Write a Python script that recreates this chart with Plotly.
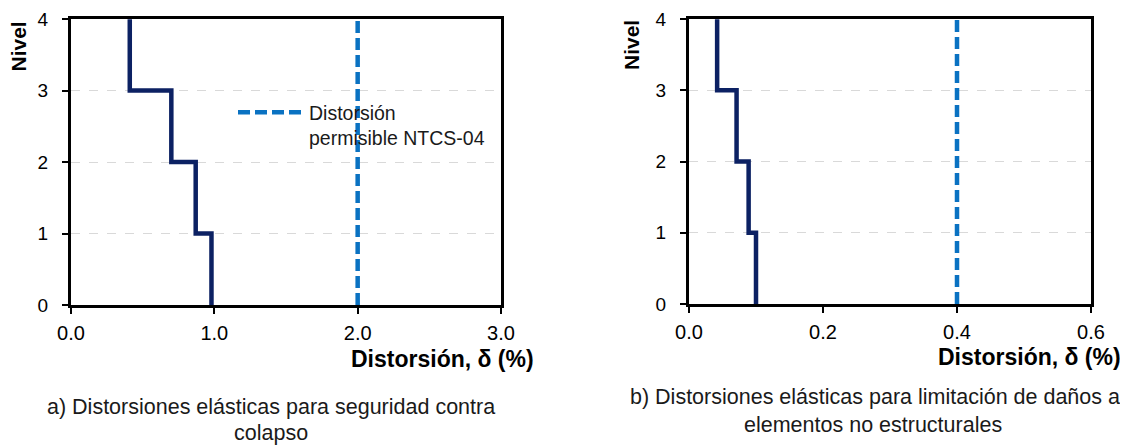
import plotly.graph_objects as go

# Data
levels = [0, 1, 2, 3, 4]
drift_a = [0.98, 0.87, 0.70, 0.41]     # stories 1..4, panel a
drift_b = [0.10, 0.089, 0.071, 0.042]  # stories 1..4, panel b
limit_a = 2.0
limit_b = 0.4
range_a = [0, 3]
range_b = [0, 0.6]
dtick_a = 1
dtick_b = 0.2
legend_label = "Distorsión<br>permisible NTCS-04"
xtitle = "Distorsión, δ (%)"
ytitle = "Nivel"
caption_a = ["a) Distorsiones elásticas para seguridad contra", "colapso"]
caption_b = ["b) Distorsiones elásticas para limitación de daños a", "elementos no estructurales"]

NAVY = "#0c2163"
BLUE = "#0a72c2"
FONT = "Liberation Sans, Arial"


def step(drifts):
    xs, ys = [], []
    for i, d in enumerate(drifts):
        xs += [d, d]
        ys += [levels[i], levels[i + 1]]
    return xs, ys


# page body has an 8px margin; work in screen pixels of the reference
OFF = 8
W, H = 1120, 437
def X(p):
    return (p - OFF) / W
def Y(p):
    return 1 - (p - OFF) / H


yrange = [levels[0], levels[-1] + 0.002]

fig = go.Figure()
xa, ya = step(drift_a)
xb, yb = step(drift_b)
fig.add_trace(go.Scatter(x=xa, y=ya, mode="lines", line=dict(color=NAVY, width=4.5),
                         showlegend=False, hoverinfo="skip", xaxis="x", yaxis="y"))
fig.add_trace(go.Scatter(x=[limit_a, limit_a], y=[levels[0], levels[-1]], mode="lines",
                         line=dict(color=BLUE, width=4.5, dash="12px,5px"),
                         name=legend_label, showlegend=True, hoverinfo="skip", xaxis="x", yaxis="y"))
fig.add_trace(go.Scatter(x=xb, y=yb, mode="lines", line=dict(color=NAVY, width=4.5),
                         showlegend=False, hoverinfo="skip", xaxis="x2", yaxis="y2"))
fig.add_trace(go.Scatter(x=[limit_b, limit_b], y=[levels[0], levels[-1]], mode="lines",
                         line=dict(color=BLUE, width=4.5, dash="12px,5px"),
                         showlegend=False, hoverinfo="skip", xaxis="x2", yaxis="y2"))

common_x = dict(showline=True, linecolor="black", linewidth=3, mirror=True,
                ticks="outside", ticklen=6, tickwidth=2, tickcolor="black",
                showgrid=False, zeroline=False, tickformat=".1f", automargin=False,
                ticklabelstandoff=2, ticklabeloverflow="allow",
                tickfont=dict(family=FONT, size=20, color="black"))
common_y = dict(showline=True, linecolor="black", linewidth=3, mirror=True,
                ticks="outside", ticklen=6, tickwidth=2, tickcolor="black",
                showgrid=True, gridcolor="#d9d9d9", gridwidth=1, griddash="dash",
                zeroline=False, range=yrange, tickvals=levels, automargin=False,
                ticklabelstandoff=10, ticklabeloverflow="allow",
                tickfont=dict(family=FONT, size=19, color="black"))
inner = dict(ticks="inside", ticklen=6, tickwidth=2, tickcolor="black",
             showticklabels=False, showline=False, showgrid=False, zeroline=False,
             automargin=False)

fig.update_layout(
    width=W, height=H,
    margin=dict(l=0, r=0, t=0, b=0, autoexpand=False),
    paper_bgcolor="white", plot_bgcolor="white",
    xaxis=dict(domain=[X(71), X(501)], range=range_a, dtick=dtick_a, anchor="y", **common_x),
    yaxis=dict(domain=[Y(305), Y(19)], anchor="x", **common_y),
    xaxis2=dict(domain=[X(689), X(1091)], range=range_b, dtick=dtick_b, anchor="y2", **common_x),
    yaxis2=dict(domain=[Y(304), Y(19)], anchor="x2", **common_y),
    xaxis3=dict(overlaying="x", anchor="y", side="bottom", range=range_a, dtick=dtick_a, **inner),
    yaxis3=dict(overlaying="y", anchor="x", side="left", range=yrange, tickvals=levels, **inner),
    xaxis4=dict(overlaying="x2", anchor="y2", side="bottom", range=range_b, dtick=dtick_b, **inner),
    yaxis4=dict(overlaying="y2", anchor="x2", side="left", range=yrange, tickvals=levels, **inner),
    legend=dict(x=X(233), y=Y(93), xanchor="left", yanchor="top",
                bgcolor="rgba(0,0,0,0)", itemwidth=66, valign="top",
                font=dict(family=FONT, size=19.5, color="#1a1a1a")),
    showlegend=True,
)

ann = []
ann.append(dict(text="<b>" + ytitle + "</b>", x=X(17.5), y=Y(20), xref="paper", yref="paper",
                textangle=-90, xanchor="center", yanchor="top", showarrow=False,
                font=dict(family=FONT, size=21, color="black")))
ann.append(dict(text="<b>" + ytitle + "</b>", x=X(631), y=Y(18), xref="paper", yref="paper",
                textangle=-90, xanchor="center", yanchor="top", showarrow=False,
                font=dict(family=FONT, size=21, color="black")))
ann.append(dict(text="<b>" + xtitle + "</b>", x=X(536), y=Y(359), xref="paper", yref="paper",
                xanchor="right", yanchor="middle", showarrow=False,
                font=dict(family=FONT, size=23, color="black")))
ann.append(dict(text="<b>" + xtitle + "</b>", x=X(1123), y=Y(357), xref="paper", yref="paper",
                xanchor="right", yanchor="middle", showarrow=False,
                font=dict(family=FONT, size=23, color="black")))
for txt, cx, cy in [(caption_a[0], 271, 406.5), (caption_a[1], 271, 433),
                    (caption_b[0], 875, 396.5), (caption_b[1], 872.5, 425)]:
    ann.append(dict(text=txt, x=X(cx), y=Y(cy), xref="paper", yref="paper",
                    xanchor="center", yanchor="middle", showarrow=False,
                    font=dict(family=FONT, size=21.5, color="#1a1a1a")))
fig.update_layout(annotations=ann)

fig.write_html("out.html")
